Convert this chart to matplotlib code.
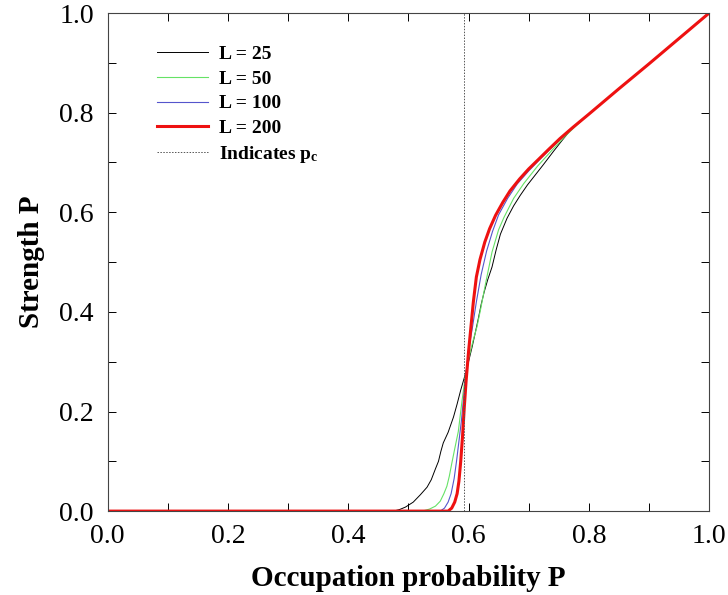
import matplotlib
matplotlib.use('Agg')
import matplotlib.pyplot as plt
from matplotlib.ticker import MultipleLocator

plt.rcParams['font.family'] = 'Liberation Serif'
plt.rcParams['mathtext.fontset'] = 'custom'
plt.rcParams['mathtext.rm'] = 'Liberation Serif:bold'
plt.rcParams['mathtext.it'] = 'Liberation Serif:bold'
plt.rcParams['mathtext.bf'] = 'Liberation Serif:bold'

pc = 0.5927

# strength curves for each lattice size
p_25 = [0.0, 0.475, 0.485, 0.495, 0.508, 0.52, 0.531, 0.538, 0.545, 0.55, 0.554, 0.558, 0.566,
        0.575, 0.581, 0.587, 0.593, 0.6, 0.606, 0.611, 0.616, 0.621, 0.626, 0.632, 0.639, 0.646,
        0.653, 0.664, 0.675, 0.686, 0.698, 0.711, 0.724, 0.741, 0.758, 0.774, 0.8, 0.85, 0.9,
        0.95, 1.0]
s_25 = [0.0, 0.0, 0.003, 0.008, 0.018, 0.033, 0.048, 0.063, 0.085, 0.1, 0.12, 0.137, 0.158,
        0.189, 0.215, 0.243, 0.268, 0.3, 0.33, 0.357, 0.385, 0.415, 0.44, 0.465, 0.49, 0.525,
        0.556, 0.588, 0.613, 0.634, 0.655, 0.675, 0.695, 0.722, 0.748, 0.771, 0.797, 0.848, 0.898,
        0.949, 1.0]

p_50 = [0.0, 0.523, 0.535, 0.545, 0.553, 0.559, 0.564, 0.568, 0.572, 0.577, 0.583, 0.589, 0.594,
        0.6, 0.607, 0.614, 0.62, 0.628, 0.639, 0.65, 0.659, 0.675, 0.692, 0.715, 0.739, 0.76,
        0.78, 0.8, 0.85, 0.9, 0.95, 1.0]
s_50 = [0.0, 0.0, 0.004, 0.01, 0.02, 0.035, 0.05, 0.07, 0.095, 0.125, 0.16, 0.22, 0.265,
        0.305, 0.34, 0.37, 0.405, 0.455, 0.52, 0.565, 0.59, 0.628, 0.658, 0.693, 0.725, 0.752,
        0.775, 0.797, 0.848, 0.898, 0.949, 1.0]

p_100 = [0.0, 0.553, 0.56, 0.566, 0.571, 0.576, 0.58, 0.584, 0.588, 0.592, 0.596, 0.601, 0.606,
         0.613, 0.621, 0.63, 0.64, 0.65, 0.665, 0.681, 0.7, 0.72, 0.74, 0.76, 0.78, 0.8, 0.85,
         0.9, 0.95, 1.0]
s_100 = [0.0, 0.0, 0.006, 0.018, 0.035, 0.065, 0.1, 0.14, 0.18, 0.23, 0.28, 0.33, 0.365,
         0.42, 0.475, 0.522, 0.562, 0.595, 0.628, 0.657, 0.683, 0.708, 0.732, 0.755, 0.776, 0.797,
         0.848, 0.898, 0.949, 1.0]

p_200 = [0.0, 0.566, 0.572, 0.577, 0.581, 0.584, 0.587, 0.59, 0.593, 0.596, 0.6, 0.604, 0.608,
         0.613, 0.619, 0.627, 0.635, 0.645, 0.657, 0.669, 0.685, 0.7, 0.717, 0.733, 0.752, 0.774,
         0.8, 0.85, 0.9, 0.95, 1.0]
s_200 = [0.0, 0.0, 0.006, 0.018, 0.035, 0.06, 0.1, 0.15, 0.21, 0.262, 0.32, 0.37, 0.42,
         0.47, 0.505, 0.54, 0.567, 0.594, 0.62, 0.643, 0.667, 0.687, 0.707, 0.726, 0.748, 0.771,
         0.797, 0.848, 0.898, 0.949, 1.0]

fig = plt.figure(figsize=(7.28, 5.95), dpi=100)
ax = fig.add_axes([0.148, 0.141, 0.826, 0.837])

ax.plot(p_25, s_25, color='black', lw=0.7, label='L = 25')
ax.plot(p_50, s_50, color='#66E266', lw=0.8, label='L = 50')
ax.plot(p_100, s_100, color='#5555CC', lw=0.8, label='L = 100')
ax.plot(p_200, s_200, color='#EE1111', lw=2.2, label='L = 200')
ax.axvline(pc, color='#555555', ls=(0, (1.5, 1.5)), lw=0.7, label=r'Indicates p$_\mathrm{c}$')

ax.set_xlim(0, 1)
ax.set_ylim(0, 1)
ax.xaxis.set_major_locator(MultipleLocator(0.2))
ax.xaxis.set_minor_locator(MultipleLocator(0.1))
ax.yaxis.set_major_locator(MultipleLocator(0.2))
ax.yaxis.set_minor_locator(MultipleLocator(0.1))
ax.xaxis.set_major_formatter(lambda v, pos: f'{v:.1f}')
ax.yaxis.set_major_formatter(lambda v, pos: f'{v:.1f}')
ax.tick_params(which='both', direction='in', top=True, right=True, length=6, width=0.7,
               labelsize=20)
ax.tick_params(axis='x', pad=9)
ax.tick_params(axis='y', pad=10)
for s in ax.spines.values():
    s.set_linewidth(0.8)
    s.set_color('#444444')

ax.set_xlabel('Occupation probability P', fontsize=21, fontweight='bold', labelpad=12)
ax.set_ylabel('Strength P', fontsize=21, fontweight='bold', labelpad=10)

ax.legend(loc='upper left', bbox_to_anchor=(0.053, 0.97), frameon=False,
          prop={'weight': 'bold', 'size': 14}, handlelength=2.6, handletextpad=0.6,
          labelspacing=0.36)

fig.savefig('out.png', dpi=100)
